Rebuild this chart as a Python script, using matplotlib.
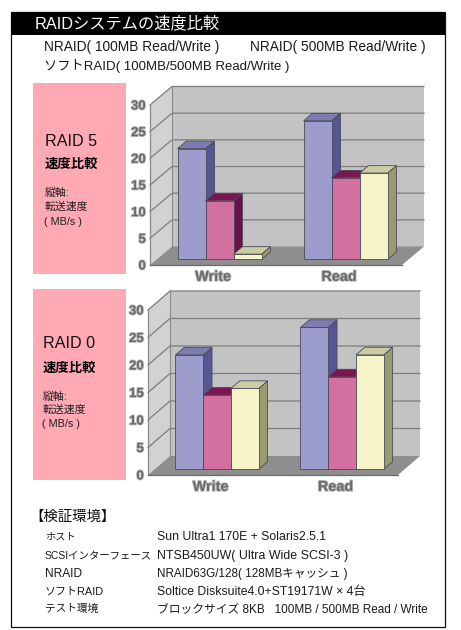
#!/usr/bin/env python3
"""RAID speed comparison sheet: two pseudo-3D bar charts plus a test environment table."""
import matplotlib
matplotlib.use("Agg")
import matplotlib.patheffects as pe
import matplotlib.pyplot as plt
from matplotlib.patches import Polygon, Rectangle

plt.rcParams["font.family"] = ["Liberation Sans", "Noto Sans CJK JP", "DejaVu Sans"]

W, H = 461, 630

CATEGORIES = ["Write", "Read"]
YTICKS = [0, 5, 10, 15, 20, 25, 30]

RAID5_NRAID_100 = [20.8, 26.0]
RAID5_NRAID_500 = [11.0, 15.3]
RAID5_SOFT = [1.0, 16.2]

RAID0_NRAID_100 = [20.8, 25.8]
RAID0_NRAID_500 = [13.5, 16.8]
RAID0_SOFT = [14.7, 20.8]

# front, top, side face colours per series
BLUE = ("#9d9dcd", "#7d7db4", "#565692")
PINK = ("#d2709f", "#7c1552", "#68104a")
CREAM = ("#f5f3c8", "#cccca2", "#999b70")

LEGEND = [
    (44, 47, 9.95, "NRAID( 100MB Read/Write )"),
    (250, 47, 9.95, "NRAID( 500MB Read/Write )"),
    (44, 66, 9.5, "ソフトRAID( 100MB/500MB Read/Write )"),
]
ENV_NAMES = ["ホスト", "SCSIインターフェース", "NRAID", "ソフトRAID", "テスト環境"]
ENV_DESCS = [
    "Sun Ultra1 170E + Solaris2.5.1",
    "NTSB450UW( Ultra Wide SCSI-3 )",
    "NRAID63G/128( 128MBキャッシュ )",
    "Soltice Disksuite4.0+ST19171W × 4台",
    "ブロックサイズ 8KB   100MB / 500MB Read / Write",
]
ENV_Y = [537, 556, 574, 592, 609]
ENV_NAME_SIZE = [7.4, 7.5, 8.6, 7.9, 7.7]
ENV_DESC_SIZE = [8.8, 8.95, 8.35, 8.8, 8.5]

BAR_W = 0.222


def chart(fig, left, right, top, bottom, depth_px, series):
    """Oblique bar chart; the axes rectangle is the front plane of the plot box."""
    ax = fig.add_axes([left / W, 1 - bottom / H, (right - left) / W, (bottom - top) / H])
    ax.set_xlim(-0.5, 1.5)
    ax.set_ylim(0, 30)
    ax.patch.set_visible(False)
    for s in ax.spines.values():
        s.set_visible(False)

    # depth vector expressed in data units
    dx = depth_px[0] * 2 / (right - left)
    dy = depth_px[1] * 30 / (bottom - top)

    def poly(pts, fc, ec="none", lw=0, z=1):
        ax.add_patch(Polygon(pts, closed=True, fc=fc, ec=ec, lw=lw, zorder=z, clip_on=False))

    x0, x1 = -0.5, 1.5
    poly([(x0 + dx, dy), (x1 + dx, dy), (x1 + dx, 30 + dy), (x0 + dx, 30 + dy)], "#c3c3c3")
    poly([(x0, 0), (x0 + dx, dy), (x0 + dx, 30 + dy), (x0, 30)], "#d2d2d2")
    poly([(x0, 0), (x1, 0), (x1 + dx, dy), (x0 + dx, dy)], "#8e8e8e")

    for t in YTICKS[1:]:
        ax.plot([x0, x0 + dx, x1 + dx], [t, t + dy, t + dy], color="#7c7c7c", lw=0.9,
                zorder=2, clip_on=False, solid_joinstyle="miter")
    ax.plot([x0 + dx, x0 + dx], [dy, 30 + dy], color="#8a8a8a", lw=0.8, zorder=2, clip_on=False)
    ax.plot([x0, x0], [0, 30], color="#8a8a8a", lw=0.9, zorder=2, clip_on=False)
    ax.plot([x0, x1], [0, 0], color="#6a6a6a", lw=0.9, zorder=2, clip_on=False)

    # bars sit 30% into the box and take 40% of its depth
    fx, fy = dx * 0.3, dy * 0.3
    bx, by = dx * 0.4, dy * 0.4
    edge = "#4a4a58"
    z = 3
    for i in range(len(CATEGORIES)):
        for k, (vals, cols) in enumerate(series):
            xl = i - 1.5 * BAR_W + k * BAR_W + fx
            xr = xl + BAR_W
            yb, yt = fy, vals[i] + fy
            poly([(xr, yb), (xr + bx, yb + by), (xr + bx, yt + by), (xr, yt)], cols[2], edge, 0.6, z)
            poly([(xl, yt), (xr, yt), (xr + bx, yt + by), (xl + bx, yt + by)], cols[1], edge, 0.6, z)
            poly([(xl, yb), (xr, yb), (xr, yt), (xl, yt)], cols[0], edge, 0.6, z)
            z += 1

    smear = [pe.withStroke(linewidth=1.2, foreground="#b8b8b8")]
    ax.set_xticks(range(len(CATEGORIES)), CATEGORIES)
    ax.set_yticks(YTICKS)
    ax.tick_params(axis="y", length=0, labelsize=9.5, labelcolor="#6a6a6a", pad=3)
    ax.tick_params(axis="x", length=0, labelsize=10.4, labelcolor="#6a6a6a", pad=3.5)
    for lab in ax.get_xticklabels() + ax.get_yticklabels():
        lab.set_fontweight("bold")
        lab.set_path_effects(smear)
    return ax


def side_panel(ov, x, top, bottom, text_x, ys, name):
    ov.add_patch(Rectangle((x, top), 93, bottom - top, fc="#ffa9b4", ec="none"))
    ov.text(text_x, ys[0], name, fontsize=11.6, va="center", color="#111111")
    ov.text(text_x, ys[1], "速度比較", fontsize=9.6, va="center", fontweight="bold", color="#000000")
    ov.text(text_x, ys[2], "縦軸:", fontsize=7.8, va="center", color="#222222")
    ov.text(text_x, ys[3], "転送速度", fontsize=7.8, va="center", color="#222222")
    ov.text(text_x - 1, ys[4], "( MB/s )", fontsize=7.8, va="center", color="#222222")


fig = plt.figure(figsize=(W / 100, H / 100), dpi=100, facecolor="white")

# page overlay in pixel coordinates, y pointing down
ov = fig.add_axes([0, 0, 1, 1])
ov.set_xlim(0, W)
ov.set_ylim(H, 0)
ov.axis("off")

ov.add_patch(Rectangle((10.5, 11.5), 434, 615, fc="white", ec="#111111", lw=0.9))
ov.add_patch(Rectangle((10.5, 11.5), 434, 23.5, fc="black", ec="none"))
ov.text(35, 23.5, "RAIDシステムの速度比較", color="white", fontsize=11.7, va="center")

for x, y, size, label in LEGEND:
    ov.text(x, y, label, fontsize=size, va="center", color="#1a1a1a")

side_panel(ov, 33, 83, 274, 45, [142, 165, 193, 207, 222], "RAID 5")
side_panel(ov, 33, 289, 480, 43, [344, 369, 397, 410, 424], "RAID 0")

ov.text(29, 517, "【検証環境】", fontsize=10.4, va="center", color="#111111")
for i, y in enumerate(ENV_Y):
    ov.text(45, y, ENV_NAMES[i], fontsize=ENV_NAME_SIZE[i], va="center", color="#1a1a1a")
    ov.text(157, y, ENV_DESCS[i], fontsize=ENV_DESC_SIZE[i], va="center", color="#1a1a1a")

chart(fig, 150, 402, 105, 265, (22, 18.5),
      [(RAID5_NRAID_100, BLUE), (RAID5_NRAID_500, PINK), (RAID5_SOFT, CREAM)])
chart(fig, 148, 398, 310, 475, (22, 19),
      [(RAID0_NRAID_100, BLUE), (RAID0_NRAID_500, PINK), (RAID0_SOFT, CREAM)])

fig.savefig("out.png", dpi=100)
